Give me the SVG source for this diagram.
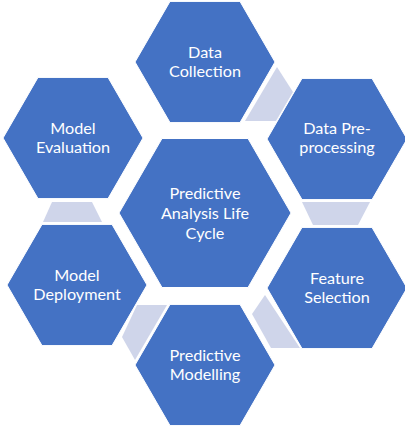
<svg xmlns="http://www.w3.org/2000/svg" xmlns:xlink="http://www.w3.org/1999/xlink" width="405" height="433" viewBox="0 0 405 433">
  <style>
    .hex { fill: #4472C4; stroke: #FFFFFF; stroke-width: 1; }
    .link { fill: #CFD5EA; stroke: none; }
    .label { font-family: Lato, "Open Sans", "Liberation Sans", sans-serif; font-size: 16.2px; fill: #FFFFFF; text-anchor: middle; }
  </style>
  <defs>
    <!-- regular hexagon, pointed left/right, radius 70 -->
    <path id="hex" d="M-70,0 L-35,-60.6 L35,-60.6 L70,0 L35,60.6 L-35,60.6 Z"/>
    <!-- larger hub hexagon, radius 86 -->
    <path id="hexHub" d="M-86,0 L-43,-74.5 L43,-74.5 L86,0 L43,74.5 L-43,74.5 Z"/>
  </defs>
  <rect width="405" height="433" fill="#FFFFFF"/>

  <g id="connectors">
    <polygon class="link" points="277,67 293,92 276,121 245,121"/>
    <polygon class="link" points="302,202 370,202 358,225 313,225"/>
    <polygon class="link" points="265,295 252,314 271,348 300,348"/>
    <polygon class="link" points="137,305 167,305 135,360 122,337"/>
    <polygon class="link" points="52,202 92,202 102,222 43,222"/>
  </g>

  <g id="hub">
    <use xlink:href="#hexHub" class="hex" transform="translate(205,213)"/>
    <text class="label" x="205" y="199">Predictive</text>
    <text class="label" x="205" y="219">Analysis Life</text>
    <text class="label" x="205" y="238.5">Cycle</text>
  </g>

  <g id="data-collection">
    <use xlink:href="#hex" class="hex" transform="translate(205,62)"/>
    <text class="label" x="205" y="57.5">Data</text>
    <text class="label" x="205" y="77">Collection</text>
  </g>

  <g id="data-preprocessing">
    <use xlink:href="#hex" class="hex" transform="translate(337,139)"/>
    <text class="label" x="337" y="133.5">Data Pre-</text>
    <text class="label" x="337" y="153">processing</text>
  </g>

  <g id="feature-selection">
    <use xlink:href="#hex" class="hex" transform="translate(337,288)"/>
    <text class="label" x="337" y="283.5">Feature</text>
    <text class="label" x="337" y="303">Selection</text>
  </g>

  <g id="predictive-modelling">
    <use xlink:href="#hex" class="hex" transform="translate(205,365)"/>
    <text class="label" x="205" y="360.5">Predictive</text>
    <text class="label" x="205" y="380">Modelling</text>
  </g>

  <g id="model-deployment">
    <use xlink:href="#hex" class="hex" transform="translate(77,285)"/>
    <text class="label" x="77" y="280.5">Model</text>
    <text class="label" x="77" y="300">Deployment</text>
  </g>

  <g id="model-evaluation">
    <use xlink:href="#hex" class="hex" transform="translate(73,138)"/>
    <text class="label" x="73" y="133.5">Model</text>
    <text class="label" x="73" y="153">Evaluation</text>
  </g>
</svg>
